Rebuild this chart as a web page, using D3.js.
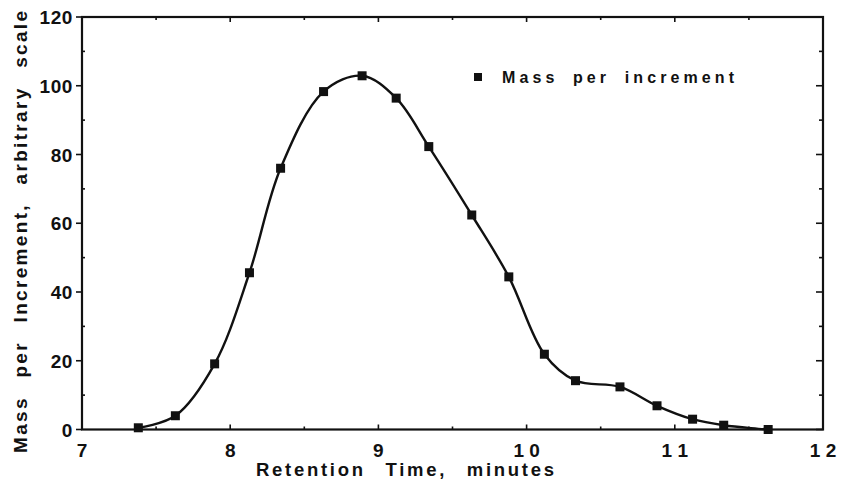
<!DOCTYPE html>
<html><head><meta charset="utf-8">
<script src="https://cdn.jsdelivr.net/npm/d3@7"></script>
<style>
body{margin:0;background:#fff;}
text{font-family:"Liberation Sans",Arial,Helvetica,sans-serif;font-weight:bold;fill:#111;}
</style></head>
<body><svg id="c" width="842" height="483"></svg>
<script>
const times  = [7.38, 7.63, 7.895, 8.13, 8.34, 8.63, 8.89, 9.12, 9.34, 9.63, 9.88, 10.12, 10.33, 10.63, 10.88, 11.12, 11.33, 11.63];
const masses = [0.5, 4.0, 19.1, 45.6, 76.0, 98.3, 102.9, 96.4, 82.3, 62.4, 44.4, 21.9, 14.2, 12.4, 6.9, 3.0, 1.25, 0.0];
const xTicks = [7, 8, 9, 10, 11, 12];
const xTickLabels = ["7", "8", "9", "1 0", "1 1", "1 2"];
const yTicks = [0, 20, 40, 60, 80, 100, 120];
const seriesName = "Mass per increment";
const xTitle = "Retention Time, minutes";
const yTitle = "Mass per Increment, arbitrary scale";

const svg = d3.select("#c");
const L = 82, R = 823, T = 17, B = 429.5;
const x = d3.scaleLinear().domain([7, 12]).range([L, R]);
const y = d3.scaleLinear().domain([0, 120]).range([B, T]);

// fit text to a target width: fixed word gap, widen letter spacing
function fit(sel, target, ws) {
  sel.attr("word-spacing", ws);
  const str = sel.text();
  const n = (str.match(/ /g) || []).length;
  const w = sel.node().getComputedTextLength();
  const ls = Math.max(0, (target - w) / (str.length - 1));
  sel.attr("letter-spacing", ls);
}

// ticks
const g = svg.append("g").attr("stroke", "#111").attr("stroke-width", 1.6);
d3.range(7, 12.01, 0.5).forEach(v => {
  const len = Number.isInteger(v) ? 5 : 3;
  g.append("line").attr("x1", x(v)).attr("x2", x(v)).attr("y1", B).attr("y2", B - len);
  g.append("line").attr("x1", x(v)).attr("x2", x(v)).attr("y1", T).attr("y2", T + len);
});
d3.range(0, 121, 10).forEach(v => {
  const major = v % 20 === 0;
  g.append("line").attr("x1", L).attr("x2", major ? L - 6 : L + 3).attr("y1", y(v)).attr("y2", y(v));
  g.append("line").attr("x1", R).attr("x2", major ? R - 7 : R - 4).attr("y1", y(v)).attr("y2", y(v));
});
// frame
svg.append("rect").attr("x", L).attr("y", T).attr("width", R - L).attr("height", B - T)
  .attr("fill", "none").attr("stroke", "#111").attr("stroke-width", 2.2);

// tick labels
svg.selectAll(".yl").data(yTicks).join("text")
  .attr("x", 73).attr("y", d => y(d)).attr("dy", "0.38em")
  .attr("text-anchor", "end").attr("font-size", 19).attr("letter-spacing", 0.6).text(d => d);
svg.selectAll(".xl").data(xTicks).join("text")
  .attr("x", d => x(d)).attr("y", 457)
  .attr("text-anchor", "middle").attr("font-size", 19).text((d, i) => xTickLabels[i]);

// titles
const xt = svg.append("text").attr("x", 256).attr("y", 476)
  .attr("font-size", 18.5).text(xTitle);
fit(xt, 298, 12);
const yt = svg.append("text").attr("transform", "translate(27,453) rotate(-90)")
  .attr("font-size", 19).text(yTitle);
fit(yt, 442, 11);

// curve
const pts = times.map((t, i) => [t, masses[i]]);
const line = d3.line().x(d => x(d[0])).y(d => y(d[1])).curve(d3.curveCatmullRom.alpha(0.5));
svg.append("path").attr("d", line(pts)).attr("fill", "none").attr("stroke", "#111").attr("stroke-width", 2.4);

// markers
const s = 9;
svg.selectAll(".m").data(pts).join("rect")
  .attr("x", d => x(d[0]) - s / 2).attr("y", d => y(d[1]) - s / 2)
  .attr("width", s).attr("height", s).attr("fill", "#111");

// legend
svg.append("rect").attr("x", 474).attr("y", 73).attr("width", 8).attr("height", 8).attr("fill", "#111");
const lt = svg.append("text").attr("x", 502).attr("y", 83).attr("font-size", 16).text(seriesName);
fit(lt, 232, 6);
</script></body></html>
